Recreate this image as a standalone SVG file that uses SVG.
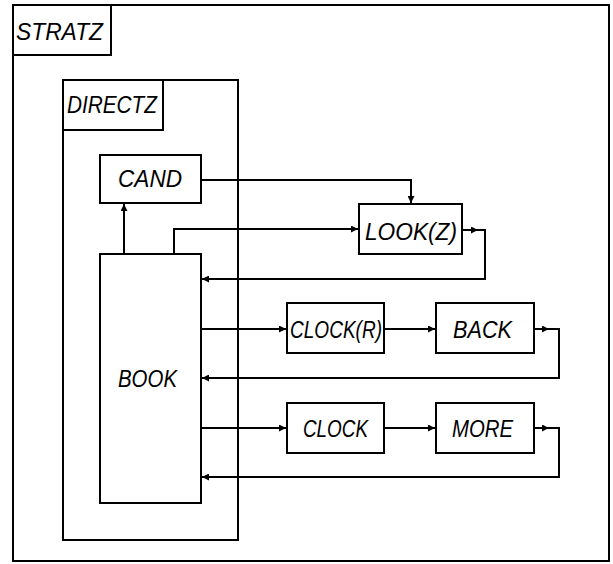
<svg xmlns="http://www.w3.org/2000/svg" width="613" height="564" viewBox="0 0 613 564">
<style>
.box{fill:none;stroke:#000;stroke-width:2}
.lbl{font-family:"Liberation Sans",Arial,sans-serif;font-style:italic;font-size:23px;fill:#000}
.c{fill:none;stroke:#000;stroke-width:2}
</style>
<defs>
<marker id="ah" viewBox="0 0 10 10" refX="10" refY="5" markerWidth="9" markerHeight="7" markerUnits="userSpaceOnUse" orient="auto">
<path d="M0,0 L10,5 L0,10 Z" fill="#000"/>
</marker>
</defs>
<rect width="613" height="564" fill="#fff"/>
<g id="stratz">
<rect class="box" x="13" y="5" width="596" height="556"/>
<rect class="box" x="13" y="5" width="98" height="50"/>
<text class="lbl" x="16" y="40" textLength="87" lengthAdjust="spacingAndGlyphs">STRATZ</text>
</g>
<g id="directz">
<rect class="box" x="63" y="80" width="175" height="460"/>
<rect class="box" x="63" y="80" width="100" height="50"/>
<text class="lbl" x="67" y="113" textLength="90" lengthAdjust="spacingAndGlyphs">DIRECTZ</text>
</g>
<g id="cand">
<rect class="box" x="100" y="155" width="101" height="48"/>
<text class="lbl" x="118" y="187" textLength="64" lengthAdjust="spacingAndGlyphs">CAND</text>
</g>
<g id="book">
<rect class="box" x="100" y="254" width="101" height="249"/>
<text class="lbl" x="118" y="387" textLength="59" lengthAdjust="spacingAndGlyphs">BOOK</text>
</g>
<g id="lookz">
<rect class="box" x="359" y="204" width="103" height="50"/>
<text class="lbl" x="365" y="240" textLength="92" lengthAdjust="spacingAndGlyphs">LOOK(Z)</text>
</g>
<g id="clockr">
<rect class="box" x="287" y="303" width="97" height="50"/>
<text class="lbl" x="290" y="338" textLength="92" lengthAdjust="spacingAndGlyphs">CLOCK(R)</text>
</g>
<g id="back">
<rect class="box" x="436" y="303" width="98" height="50"/>
<text class="lbl" x="453" y="338" textLength="59" lengthAdjust="spacingAndGlyphs">BACK</text>
</g>
<g id="clock">
<rect class="box" x="287" y="403" width="97" height="50"/>
<text class="lbl" x="303" y="437" textLength="65" lengthAdjust="spacingAndGlyphs">CLOCK</text>
</g>
<g id="more">
<rect class="box" x="436" y="403" width="98" height="50"/>
<text class="lbl" x="452" y="437" textLength="61" lengthAdjust="spacingAndGlyphs">MORE</text>
</g>
<g id="connectors">
<path class="c" d="M124,254 V204" marker-end="url(#ah)"/>
<path class="c" d="M201,180 H411 V203" marker-end="url(#ah)"/>
<path class="c" d="M174,254 V229 H358" marker-end="url(#ah)"/>
<path class="c" d="M462,230 H478" marker-end="url(#ah)"/>
<path class="c" d="M476,230 H485 V279 H202" marker-end="url(#ah)"/>
<path class="c" d="M201,329 H286" marker-end="url(#ah)"/>
<path class="c" d="M384,329 H435" marker-end="url(#ah)"/>
<path class="c" d="M534,329 H549" marker-end="url(#ah)"/>
<path class="c" d="M547,329 H559 V378 H202" marker-end="url(#ah)"/>
<path class="c" d="M201,428 H286" marker-end="url(#ah)"/>
<path class="c" d="M384,428 H435" marker-end="url(#ah)"/>
<path class="c" d="M534,428 H549" marker-end="url(#ah)"/>
<path class="c" d="M547,428 H559 V477 H202" marker-end="url(#ah)"/>
</g>
</svg>
